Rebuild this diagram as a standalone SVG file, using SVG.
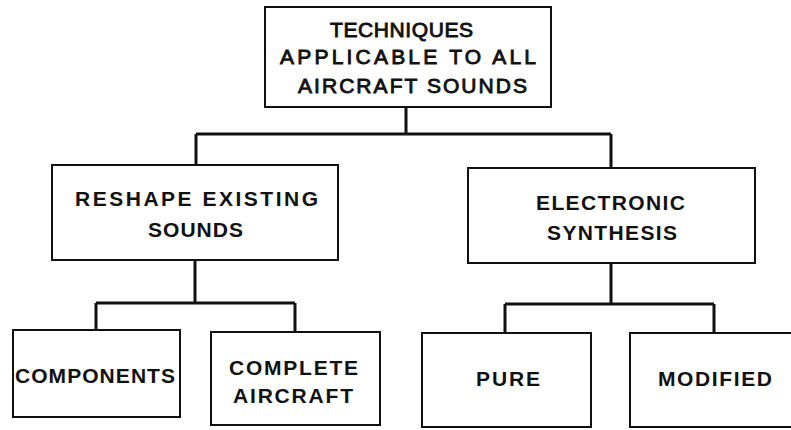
<svg xmlns="http://www.w3.org/2000/svg" width="791" height="430" viewBox="0 0 791 430">
<style>
.box{fill:#fff;stroke:#111;stroke-width:2}
.con{fill:none;stroke:#111;stroke-width:3;stroke-linejoin:miter}
text{font-family:"Liberation Sans",Arial,sans-serif;fill:#111}
.t{font-size:21px;stroke:#111;stroke-width:0.9}
.m{font-size:21px;font-weight:bold}
.b{font-size:21px;font-weight:bold}
</style>
<rect width="791" height="430" fill="#fff"/>
<g id="connectors">
<path class="con" d="M406,107 V134 M196,134 H611 M196,134 V165 M611,134 V168"/>
<path class="con" d="M195,260 V303 M96,303 H295 M96,303 V330 M295,303 V332"/>
<path class="con" d="M611,263 V304 M505,304 H714 M505,304 V333 M714,304 V333"/>
</g>
<g id="root">
<rect class="box" x="265" y="7" width="286" height="100"/>
<text class="t" x="330" y="37" textLength="143" lengthAdjust="spacing">TECHNIQUES</text>
<text class="t" x="280" y="64" textLength="256" lengthAdjust="spacing">APPLICABLE TO ALL</text>
<text class="t" x="298" y="93" textLength="229" lengthAdjust="spacing">AIRCRAFT SOUNDS</text>
</g>
<g id="reshape">
<rect class="box" x="52" y="165" width="286" height="95"/>
<text class="m" x="75" y="206" textLength="243" lengthAdjust="spacing">RESHAPE EXISTING</text>
<text class="m" x="148" y="237" textLength="95" lengthAdjust="spacing">SOUNDS</text>
</g>
<g id="electronic">
<rect class="box" x="468" y="168" width="287" height="95"/>
<text class="m" x="536" y="210" textLength="149" lengthAdjust="spacing">ELECTRONIC</text>
<text class="m" x="547" y="240" textLength="130" lengthAdjust="spacing">SYNTHESIS</text>
</g>
<g id="components">
<rect class="box" x="13" y="330" width="167" height="87"/>
<text class="b" x="15" y="383" textLength="160" lengthAdjust="spacing">COMPONENTS</text>
</g>
<g id="complete">
<rect class="box" x="211" y="332" width="169" height="93"/>
<text class="b" x="229" y="375" textLength="129" lengthAdjust="spacing">COMPLETE</text>
<text class="b" x="233" y="403" textLength="120" lengthAdjust="spacing">AIRCRAFT</text>
</g>
<g id="pure">
<rect class="box" x="422" y="333" width="169" height="94"/>
<text class="b" x="476" y="386" textLength="64" lengthAdjust="spacing">PURE</text>
</g>
<g id="modified">
<rect class="box" x="630" y="333" width="170" height="94"/>
<text class="b" x="658" y="386" textLength="114" lengthAdjust="spacing">MODIFIED</text>
</g>
</svg>
